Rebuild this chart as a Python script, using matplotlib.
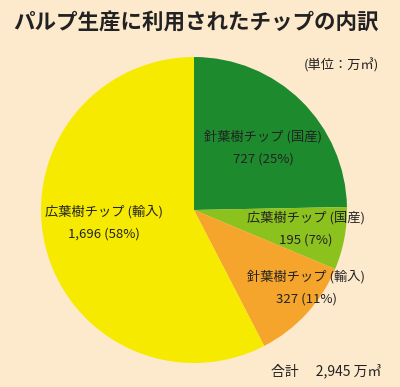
import matplotlib
matplotlib.use("Agg")
import matplotlib.pyplot as plt

plt.rcParams['font.family'] = ['Noto Sans CJK JP', 'DejaVu Sans']

categories = ["針葉樹チップ (国産)", "広葉樹チップ (国産)", "針葉樹チップ (輸入)", "広葉樹チップ (輸入)"]
values = [727, 195, 327, 1696]
value_labels = ["727 (25%)", "195 (7%)", "327 (11%)", "1,696 (58%)"]
colors = ["#1E8A2E", "#8CC21E", "#F5A52B", "#F5EA00"]
bg = "#FDEACD"

W, H = 400, 387
fig = plt.figure(figsize=(4.0, 3.87), dpi=100, facecolor=bg)
cx, cy, r = 194, 210, 153
ax = fig.add_axes([(cx - r) / W, (H - cy - r) / H, 2 * r / W, 2 * r / H])
ax.set_facecolor(bg)
ax.pie(values, colors=colors, startangle=90, counterclock=False,
       wedgeprops=dict(linewidth=0), radius=1.0)
ax.set_xlim(-1, 1)
ax.set_ylim(-1, 1)
ax.set_aspect('auto')
ax.axis('off')

# label positions (pixel coords of text centers)
label_pos = [(263, 137), (306, 218), (306, 277), (104, 212)]
for (x, y), cat, vl in zip(label_pos, categories, value_labels):
    fig.text(x / W, 1 - y / H, cat, ha='center', va='center', fontsize=9.5, color='#222222')
    fig.text(x / W, 1 - (y + 22) / H, vl, ha='center', va='center', fontsize=9.5, color='#222222')

fig.text(13 / W, 1 - 22 / H, "パルプ生産に利用されたチップの内訳", ha='left', va='center',
         fontsize=15.5, fontweight='bold', color='#222222')
fig.text(379 / W, 1 - 65 / H, "(単位：万㎥)", ha='right', va='center', fontsize=9.5, color='#222222')
fig.text(381 / W, 1 - 371 / H, "合計　 2,945 万㎥", ha='right', va='center', fontsize=10, color='#222222')

fig.savefig("out.png", dpi=100, facecolor=bg)
